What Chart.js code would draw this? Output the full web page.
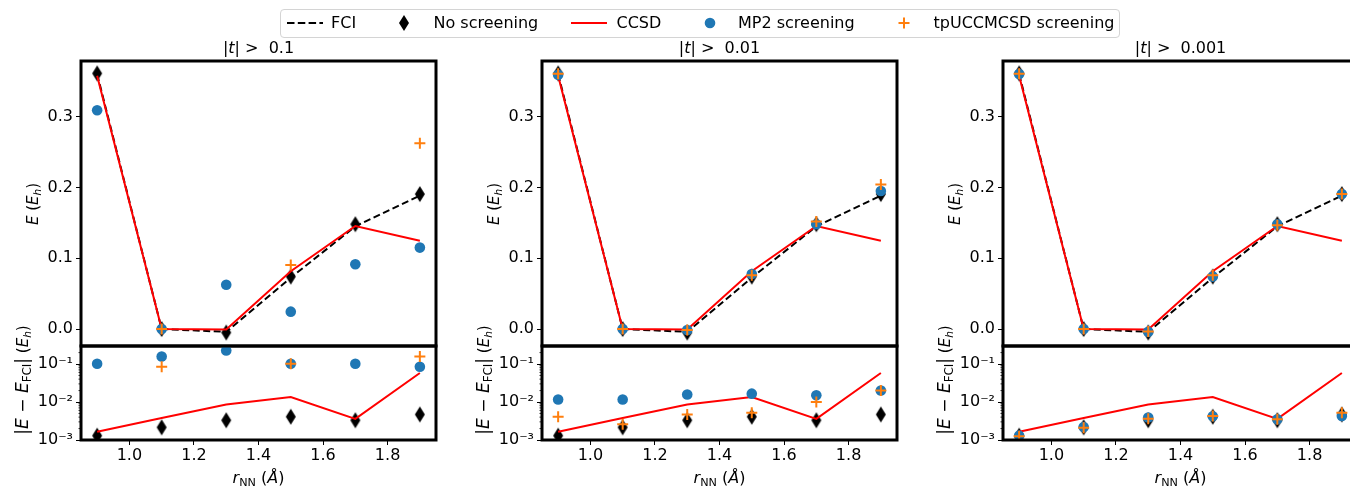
<!DOCTYPE html>
<html lang="en">
<head>
<meta charset="UTF-8">
<title>N2 energies with amplitude screening</title>
<script src="https://cdn.jsdelivr.net/npm/chart.js"></script>
<style>
  html, body { margin: 0; padding: 0; background: #fff; }
  body { width: 1350px; height: 487px; overflow: hidden; position: relative;
         font-family: "DejaVu Sans", sans-serif; color: #000; }
  canvas { position: absolute; }
  .txt { position: absolute; white-space: nowrap; font-size: 16px; line-height: 1; }
  .mid { transform: translate(-50%, -50%); }
  .rot { transform: translate(-50%, -50%) rotate(-90deg); }
  sub { font-size: 70%; vertical-align: -0.3em; line-height: 0; }
  .big { font-size: 17px; }
  #legend { position: absolute; left: 280px; top: 9px; width: 838px; height: 27px;
            border: 1px solid #d4d4d4; border-radius: 4px; background: rgba(255,255,255,0.8); }
  .key { position: absolute; }
</style>
</head>
<body>
<div id="legend"></div>
<script>
// bond lengths (Å) and tick positions
const rNN = [0.9, 1.1, 1.3, 1.5, 1.7, 1.9];
const rTicks = [1.0, 1.2, 1.4, 1.6, 1.8];
const energyTicks = [0.0, 0.1, 0.2, 0.3];
const errorTicks = [1e-3, 1e-2, 1e-1];
const thresholds = ['0.1', '0.01', '0.001'];

// reference curves (Eh)
const eFCI = [0.3600, 0.0000, -0.0040, 0.0725, 0.1450, 0.1885];
const eCCSD = [0.3578, 0.0000, -0.0008, 0.0815, 0.1455, 0.1247];
const eNoScreen = [0.3610, 0.0000, -0.0050, 0.0740, 0.1480, 0.1905];

// |E - E_FCI| of the references
const errCCSD = [1.65e-3, 3.8e-3, 8.6e-3, 1.36e-2, 3.6e-3, 5.8e-2];
const errNoScreen = [1.3e-3, 2.15e-3, 3.3e-3, 4.1e-3, 3.3e-3, 4.7e-3];

// screened energies, one array per threshold
const mp2E_1 = [0.3090, 0.0000, 0.0625, 0.0245, 0.0915, 0.1150];
const mp2E_2 = [0.3590, 0.0000, -0.0015, 0.0777, 0.1480, 0.1950];
const mp2E_3 = [0.3600, 0.0000, -0.0040, 0.0740, 0.1480, 0.1905];
const tpE_1 = [null, 0.0000, null, 0.0905, null, 0.2625];
const tpE_2 = [0.3605, 0.0000, -0.0015, 0.0760, 0.1520, 0.2040];
const tpE_3 = [0.3605, 0.0000, -0.0035, 0.0760, 0.1465, 0.1905];

// screened errors
const mp2Err_1 = [0.102, 0.158, 0.227, 0.102, 0.102, 0.085];
const mp2Err_2 = [1.16e-2, 1.16e-2, 1.57e-2, 1.66e-2, 1.50e-2, 2.0e-2];
const mp2Err_3 = [1.3e-3, 2.2e-3, 3.9e-3, 4.2e-3, 3.5e-3, 4.3e-3];
const tpErr_1 = [null, 8.5e-2, null, 0.102, null, 0.158];
const tpErr_2 = [4.1e-3, 2.6e-3, 4.7e-3, 5.2e-3, 1.0e-2, 2.0e-2];
const tpErr_3 = [1.25e-3, 2.1e-3, 3.6e-3, 4.3e-3, 3.5e-3, 5.2e-3];

const mp2E = [mp2E_1, mp2E_2, mp2E_3];
const tpE = [tpE_1, tpE_2, tpE_3];
const mp2Err = [mp2Err_1, mp2Err_2, mp2Err_3];
const tpErr = [tpErr_1, tpErr_2, tpErr_3];

const BLUE = '#1f77b4', ORANGE = '#ff7f0e', RED = '#ff0000';
const FONT = 'DejaVu Sans';

// panel geometry
const panelLeft = [81, 542, 1003];
const panelW = 355;
const topY = 61, midY = 346, botY = 440;
const yAxisW = 81, pad = 10;

// thin diamond marker ('d')
function thinDiamond(w, h) {
    const c = document.createElement('canvas');
    c.width = w + 2; c.height = h + 2;
    const g = c.getContext('2d');
    g.fillStyle = '#000';
    g.beginPath();
    g.moveTo(c.width / 2, 1);
    g.lineTo(c.width - 1, c.height / 2);
    g.lineTo(c.width / 2, c.height - 1);
    g.lineTo(1, c.height / 2);
    g.closePath();
    g.fill();
    return c;
}
const diamond = thinDiamond(10, 16);

function pts(arr) {
    return rNN.map((x, i) => ({ x: x, y: arr[i] })).filter(p => p.y !== null);
}

const supDigits = { '-': '\u207B', '1': '\u00B9', '2': '\u00B2', '3': '\u00B3' };
function logLabel(v) {
    const e = String(Math.round(Math.log10(v)));
    return '10' + e.split('').map(ch => supDigits[ch]).join('');
}

// black frame round the plot area, plus minor ticks on log axes
const framePlugin = {
    id: 'frame',
    afterDatasetsDraw(chart) {
        const ctx = chart.ctx, a = chart.chartArea, y = chart.scales.y;
        ctx.save();
        if (y.type === 'logarithmic') {
            ctx.strokeStyle = '#000';
            ctx.lineWidth = 0.8;
            ctx.beginPath();
            for (let d = -3; d <= -1; d++) {
                for (let m = 2; m <= 9; m++) {
                    const v = m * Math.pow(10, d);
                    if (v <= y.min || v >= y.max) continue;
                    const py = y.getPixelForValue(v);
                    ctx.moveTo(a.left - 2.5, py);
                    ctx.lineTo(a.left, py);
                }
            }
            ctx.stroke();
        }
        ctx.lineWidth = 3;
        ctx.strokeStyle = '#000';
        ctx.strokeRect(a.left, a.top, a.right - a.left, a.bottom - a.top);
        ctx.restore();
    }
};

function tickGrid() {
    return { drawOnChartArea: false, drawTicks: true, tickLength: 5, tickColor: '#000', tickWidth: 1 };
}

// fixed axis sizes, no extra room for edge labels
function fixY(s) { s.width = yAxisW; s.paddingTop = 0; s.paddingBottom = 0; }
function fixX(s) { s.height = 30; s.paddingLeft = 0; s.paddingRight = 0; }

function makeCanvas(left, top, w, h) {
    const c = document.createElement('canvas');
    c.width = w; c.height = h;
    c.style.left = left + 'px'; c.style.top = top + 'px';
    c.style.width = w + 'px'; c.style.height = h + 'px';
    document.body.appendChild(c);
    return c;
}

function addText(html, x, y, cls, size) {
    const d = document.createElement('div');
    d.className = 'txt ' + cls;
    d.style.left = x + 'px';
    d.style.top = y + 'px';
    if (size) d.style.fontSize = size + 'px';
    d.innerHTML = html;
    document.body.appendChild(d);
}

Chart.defaults.font.family = FONT;
Chart.defaults.font.size = 16;
Chart.defaults.color = '#000';

const xMin = 0.85, xMax = 1.95;

for (let c = 0; c < 3; c++) {
    const L = panelLeft[c];

    // upper panel: relative energies
    const topCanvas = makeCanvas(L - yAxisW, topY - pad, yAxisW + panelW + pad, midY - topY + 2 * pad);
    new Chart(topCanvas, {
        type: 'scatter',
        data: {
            datasets: [
                { label: 'FCI', data: pts(eFCI), showLine: true, pointRadius: 0, borderColor: '#000',
                  borderWidth: 2, borderDash: [7, 3.5], order: 5, clip: 0 },
                { label: 'No screening', data: pts(eNoScreen), pointStyle: diamond, pointRadius: 6,
                  showLine: false, order: 4, clip: 0 },
                { label: 'CCSD', data: pts(eCCSD), showLine: true, pointRadius: 0, borderColor: RED,
                  borderWidth: 2, order: 3, clip: 0 },
                { label: 'MP2 screening', data: pts(mp2E[c]), pointStyle: 'circle', pointRadius: 5.3,
                  backgroundColor: BLUE, borderWidth: 0, showLine: false, order: 2, clip: 0 },
                { label: 'tpUCCMCSD screening', data: pts(tpE[c]), pointStyle: 'cross', pointRadius: 5.5,
                  borderColor: ORANGE, borderWidth: 2, showLine: false, order: 1, clip: 0 }
            ]
        },
        options: {
            responsive: false, animation: false, events: [],
            layout: { padding: { top: pad, right: pad, bottom: pad, left: 0 } },
            plugins: { legend: { display: false }, tooltip: { enabled: false } },
            scales: {
                x: { type: 'linear', min: xMin, max: xMax, display: false },
                y: {
                    type: 'linear', min: -0.024, max: 0.3785,
                    afterBuildTicks: s => { s.ticks = energyTicks.map(v => ({ value: v })); },
                    afterFit: fixY,
                    ticks: { callback: v => v.toFixed(1), padding: 3 },
                    grid: tickGrid(),
                    border: { display: false }
                }
            }
        },
        plugins: [framePlugin]
    });

    // lower panel: absolute error against FCI
    const botCanvas = makeCanvas(L - yAxisW, midY - pad, yAxisW + panelW + pad, botY - midY + pad + 30);
    new Chart(botCanvas, {
        type: 'scatter',
        data: {
            datasets: [
                { label: 'No screening', data: pts(errNoScreen), pointStyle: diamond, pointRadius: 6,
                  showLine: false, order: 4, clip: 0 },
                { label: 'CCSD', data: pts(errCCSD), showLine: true, pointRadius: 0, borderColor: RED,
                  borderWidth: 2, order: 3, clip: 0 },
                { label: 'MP2 screening', data: pts(mp2Err[c]), pointStyle: 'circle', pointRadius: 5.3,
                  backgroundColor: BLUE, borderWidth: 0, showLine: false, order: 2, clip: 0 },
                { label: 'tpUCCMCSD screening', data: pts(tpErr[c]), pointStyle: 'cross', pointRadius: 5.5,
                  borderColor: ORANGE, borderWidth: 2, showLine: false, order: 1, clip: 0 }
            ]
        },
        options: {
            responsive: false, animation: false, events: [],
            layout: { padding: { top: pad, right: pad, bottom: 0, left: 0 } },
            plugins: { legend: { display: false }, tooltip: { enabled: false } },
            scales: {
                x: {
                    type: 'linear', min: xMin, max: xMax,
                    afterBuildTicks: s => { s.ticks = rTicks.map(v => ({ value: v })); },
                    afterFit: fixX,
                    ticks: { callback: v => v.toFixed(1), maxRotation: 0, autoSkip: false, padding: 1 },
                    grid: tickGrid(),
                    border: { display: false }
                },
                y: {
                    type: 'logarithmic', min: 1e-3, max: 0.298,
                    afterBuildTicks: s => { s.ticks = errorTicks.map(v => ({ value: v })); },
                    afterFit: fixY,
                    ticks: { callback: v => logLabel(v), padding: 3 },
                    grid: tickGrid(),
                    border: { display: false }
                }
            }
        },
        plugins: [framePlugin]
    });

    const cx = L + panelW / 2;
    addText('|<i>t</i>| &gt;&nbsp; ' + thresholds[c], cx, 48, 'mid', 16);
    addText('<i>r</i><sub>NN</sub> (<i>Å</i>)', cx, 478, 'mid', 16);
    addText('<i>E</i> (<i>E<sub>h</sub></i>)', L - 48, (topY + midY) / 2, 'rot', 15);
    addText('<span class="big">|<i>E</i> − <i>E</i><sub>FCI</sub>|</span> (<i>E<sub>h</sub></i>)', L - 59, 380, 'rot', 15);
}

// legend row
const legend = [
    { name: 'FCI', text: 331, key: '<svg width="40" height="10"><line x1="0" y1="5" x2="36" y2="5" stroke="#000" stroke-width="2" stroke-dasharray="7.5,3.3"/></svg>', kx: 286.5 },
    { name: 'No screening', text: 433.5, key: '<svg width="12" height="18"><polygon points="6,1 11,9 6,17 1,9" fill="#000"/></svg>', kx: 398 },
    { name: 'CCSD', text: 616.5, key: '<svg width="40" height="10"><line x1="0" y1="5" x2="36" y2="5" stroke="' + RED + '" stroke-width="2"/></svg>', kx: 570.5 },
    { name: 'MP2 screening', text: 738, key: '<svg width="12" height="12"><circle cx="6" cy="6" r="5.3" fill="' + BLUE + '"/></svg>', kx: 703.5 },
    { name: 'tpUCCMCSD screening', text: 933.5, key: '<svg width="14" height="14"><path d="M7 1.5V12.5M1.5 7H12.5" stroke="' + ORANGE + '" stroke-width="2"/></svg>', kx: 897 }
];
const legendTop = 23;
legend.forEach(item => {
    const k = document.createElement('div');
    k.className = 'key';
    k.innerHTML = item.key;
    document.body.appendChild(k);
    const svg = k.firstChild;
    k.style.left = item.kx + 'px';
    k.style.top = (legendTop - svg.getAttribute('height') / 2) + 'px';
    k.style.lineHeight = '0';
    addText(item.name, item.text, legendTop - 8, '', 16);
});
</script>
</body>
</html>
